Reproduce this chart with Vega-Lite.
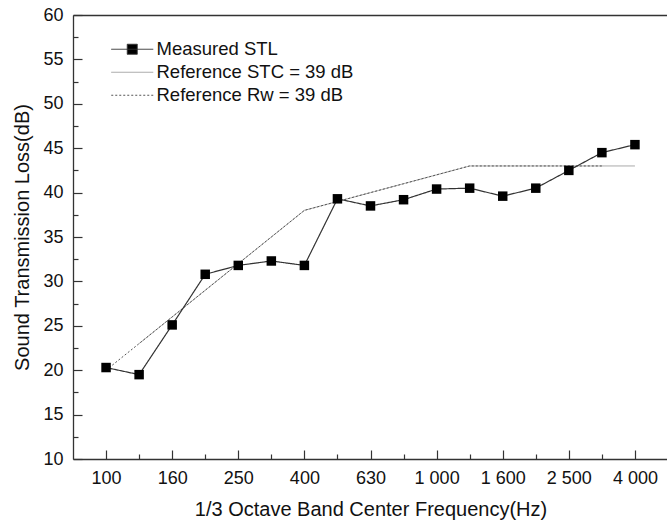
{
  "$schema": "https://vega.github.io/schema/vega-lite/v6.json",
  "width": 595,
  "height": 444,
  "autosize": {"type": "none"},
  "padding": {"left": 73, "top": 15, "right": 0, "bottom": 64},
  "background": "white",
  "datasets": {
    "stl": [
      {"series": "Measured STL", "freq": 100, "value": 20.3},
      {"series": "Measured STL", "freq": 125, "value": 19.5},
      {"series": "Measured STL", "freq": 160, "value": 25.1},
      {"series": "Measured STL", "freq": 200, "value": 30.8},
      {"series": "Measured STL", "freq": 250, "value": 31.8},
      {"series": "Measured STL", "freq": 315, "value": 32.3},
      {"series": "Measured STL", "freq": 400, "value": 31.8},
      {"series": "Measured STL", "freq": 500, "value": 39.3},
      {"series": "Measured STL", "freq": 630, "value": 38.5},
      {"series": "Measured STL", "freq": 800, "value": 39.2},
      {"series": "Measured STL", "freq": 1000, "value": 40.4},
      {"series": "Measured STL", "freq": 1250, "value": 40.5},
      {"series": "Measured STL", "freq": 1600, "value": 39.6},
      {"series": "Measured STL", "freq": 2000, "value": 40.5},
      {"series": "Measured STL", "freq": 2500, "value": 42.5},
      {"series": "Measured STL", "freq": 3150, "value": 44.5},
      {"series": "Measured STL", "freq": 4000, "value": 45.4},
      {"series": "Reference STC = 39 dB", "freq": 125, "value": 23},
      {"series": "Reference STC = 39 dB", "freq": 160, "value": 26},
      {"series": "Reference STC = 39 dB", "freq": 200, "value": 29},
      {"series": "Reference STC = 39 dB", "freq": 250, "value": 32},
      {"series": "Reference STC = 39 dB", "freq": 315, "value": 35},
      {"series": "Reference STC = 39 dB", "freq": 400, "value": 38},
      {"series": "Reference STC = 39 dB", "freq": 500, "value": 39},
      {"series": "Reference STC = 39 dB", "freq": 630, "value": 40},
      {"series": "Reference STC = 39 dB", "freq": 800, "value": 41},
      {"series": "Reference STC = 39 dB", "freq": 1000, "value": 42},
      {"series": "Reference STC = 39 dB", "freq": 1250, "value": 43},
      {"series": "Reference STC = 39 dB", "freq": 1600, "value": 43},
      {"series": "Reference STC = 39 dB", "freq": 2000, "value": 43},
      {"series": "Reference STC = 39 dB", "freq": 2500, "value": 43},
      {"series": "Reference STC = 39 dB", "freq": 3150, "value": 43},
      {"series": "Reference STC = 39 dB", "freq": 4000, "value": 43},
      {"series": "Reference Rw = 39 dB", "freq": 100, "value": 20},
      {"series": "Reference Rw = 39 dB", "freq": 125, "value": 23},
      {"series": "Reference Rw = 39 dB", "freq": 160, "value": 26},
      {"series": "Reference Rw = 39 dB", "freq": 200, "value": 29},
      {"series": "Reference Rw = 39 dB", "freq": 250, "value": 32},
      {"series": "Reference Rw = 39 dB", "freq": 315, "value": 35},
      {"series": "Reference Rw = 39 dB", "freq": 400, "value": 38},
      {"series": "Reference Rw = 39 dB", "freq": 500, "value": 39},
      {"series": "Reference Rw = 39 dB", "freq": 630, "value": 40},
      {"series": "Reference Rw = 39 dB", "freq": 800, "value": 41},
      {"series": "Reference Rw = 39 dB", "freq": 1000, "value": 42},
      {"series": "Reference Rw = 39 dB", "freq": 1250, "value": 43},
      {"series": "Reference Rw = 39 dB", "freq": 1600, "value": 43},
      {"series": "Reference Rw = 39 dB", "freq": 2000, "value": 43},
      {"series": "Reference Rw = 39 dB", "freq": 2500, "value": 43},
      {"series": "Reference Rw = 39 dB", "freq": 3150, "value": 43}
    ]
  },
  "data": {"name": "stl"},
  "layer": [
    {
      "transform": [{"filter": "datum.series !== 'Measured STL'"}],
      "mark": {"type": "line", "strokeWidth": 1},
      "encoding": {
        "x": {
          "field": "freq", "type": "ordinal",
          "scale": {"type": "point", "padding": 1},
          "axis": {
            "values": [100, 160, 250, 400, 630, 1000, 1600, 2500, 4000],
            "tickSize": -9, "labelPadding": 19, "labelAngle": 0,
            "labelExpr": "replace(format(datum.value, ','), ',', ' ')",
            "title": "1/3 Octave Band Center Frequency(Hz)", "titlePadding": 12
          }
        },
        "y": {
          "field": "value", "type": "quantitative",
          "scale": {"domain": [10, 60], "nice": false, "zero": false},
          "axis": {
            "values": [10, 15, 20, 25, 30, 35, 40, 45, 50, 55, 60],
            "tickSize": -9, "labelPadding": 19,
            "title": "Sound Transmission Loss(dB)", "titlePadding": 10
          }
        },
        "color": {
          "field": "series", "type": "nominal", "title": null,
          "scale": {"domain": ["Measured STL", "Reference STC = 39 dB", "Reference Rw = 39 dB"], "range": ["#333333", "#a0a0a0", "#555555"]},
          "legend": {
            "encoding": {
              "symbols": {
                "shape": {"condition": {"test": "datum.value === 'Measured STL'", "value": "M-4.2,0L4.2,0M-1,-1L1,-1L1,1L-1,1Z"}, "value": "M-4.2,0L4.2,0"},
                "fill": {"condition": {"test": "datum.value === 'Measured STL'", "value": "#000000"}, "value": "transparent"}
              }
            }
          }
        },
        "strokeDash": {
          "field": "series", "type": "nominal", "title": null,
          "scale": {"domain": ["Measured STL", "Reference STC = 39 dB", "Reference Rw = 39 dB"], "range": [[1, 0], [1, 0], [2, 2]]}
        },
        "order": {"field": "freq", "type": "quantitative"}
      }
    },
    {
      "transform": [{"filter": "datum.series === 'Measured STL'"}],
      "mark": {"type": "line", "strokeWidth": 1.2},
      "encoding": {
        "x": {
          "field": "freq", "type": "ordinal",
          "scale": {"type": "point", "padding": 1},
          "axis": {
            "orient": "bottom",
            "values": [125, 200, 315, 500, 800, 1250, 2000, 3150],
            "tickSize": -5, "labels": false, "domain": false, "title": null
          }
        },
        "y": {
          "field": "value", "type": "quantitative",
          "scale": {"domain": [10, 60], "nice": false, "zero": false},
          "axis": {
            "orient": "left",
            "values": [12.5, 17.5, 22.5, 27.5, 32.5, 37.5, 42.5, 47.5, 52.5, 57.5],
            "tickSize": -5, "labels": false, "domain": false, "title": null
          }
        },
        "color": {
          "field": "series", "type": "nominal", "title": null,
          "scale": {"domain": ["Measured STL", "Reference STC = 39 dB", "Reference Rw = 39 dB"], "range": ["#333333", "#a0a0a0", "#555555"]}
        },
        "strokeDash": {
          "field": "series", "type": "nominal", "title": null,
          "scale": {"domain": ["Measured STL", "Reference STC = 39 dB", "Reference Rw = 39 dB"], "range": [[1, 0], [1, 0], [2, 2]]}
        },
        "order": {"field": "freq", "type": "quantitative"}
      }
    },
    {
      "transform": [{"filter": "datum.series === 'Measured STL'"}],
      "mark": {"type": "square", "size": 90, "color": "#000000", "opacity": 1, "filled": true},
      "encoding": {
        "x": {
          "field": "freq", "type": "ordinal",
          "scale": {"type": "point", "padding": 1},
          "axis": {"orient": "top", "values": [], "ticks": false, "labels": false, "title": null, "domain": true}
        },
        "y": {
          "field": "value", "type": "quantitative",
          "scale": {"domain": [10, 60], "nice": false, "zero": false},
          "axis": null
        }
      }
    }
  ],
  "resolve": {"axis": {"x": "independent", "y": "independent"}},
  "config": {
    "view": {"stroke": null},
    "axis": {
      "grid": false,
      "labelFont": "Liberation Sans", "titleFont": "Liberation Sans",
      "labelFontSize": 18, "titleFontSize": 20, "titleFontWeight": "normal",
      "labelColor": "#111111", "titleColor": "#111111",
      "domainColor": "#333333", "domainWidth": 1.3,
      "tickColor": "#333333", "tickWidth": 1.2
    },
    "legend": {
      "orient": "none", "legendX": 50, "legendY": 25,
      "padding": 0, "rowPadding": 4,
      "labelFont": "Liberation Sans", "labelFontSize": 18.5, "labelColor": "#111111",
      "labelOffset": 15, "labelLimit": 400,
      "symbolSize": 100, "symbolStrokeWidth": 1,
      "symbolType": "M-4.2,0L4.2,0"
    }
  }
}
